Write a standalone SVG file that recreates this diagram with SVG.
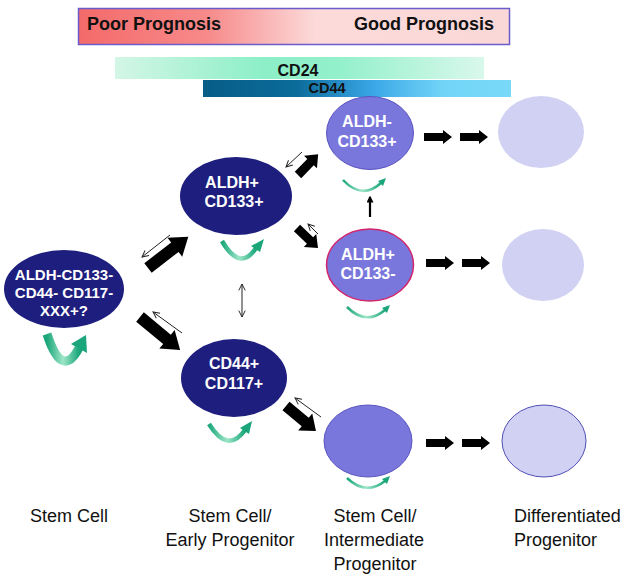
<svg xmlns="http://www.w3.org/2000/svg" width="624" height="579" viewBox="0 0 624 579">
<style>
  text { font-family: "Liberation Sans", Arial, sans-serif; }
  .hdr { font-size: 18px; font-weight: bold; fill: #111; }
  .bar { font-weight: bold; fill: #111; text-anchor: middle; }
  .nt { font-size: 16px; font-weight: bold; fill: #fff; text-anchor: middle; }
  .st { font-size: 15px; font-weight: bold; fill: #fff; text-anchor: middle; }
  .lbl { font-size: 18px; fill: #111; }
  .dark { fill: #1e1e7e; }
  .mid { fill: #7a77dc; }
  .light { fill: #d1d1f3; }
  .blk { fill: #000; }
  .thin { stroke: #222; stroke-width: 1; fill: none; }
  .sr { fill: none; stroke: url(#gSR); }
  .srh { fill: #1aa67a; }
</style>
<defs>
  <linearGradient id="gProg" x1="0" y1="0" x2="1" y2="0">
    <stop offset="0" stop-color="#f46a6a"/>
    <stop offset="0.3" stop-color="#f78a8a"/>
    <stop offset="0.55" stop-color="#fcdada"/>
    <stop offset="1" stop-color="#fbd8d8"/>
  </linearGradient>
  <linearGradient id="gCD24" x1="0" y1="0" x2="1" y2="0">
    <stop offset="0" stop-color="#d4f6e6"/>
    <stop offset="0.4" stop-color="#8cefc8"/>
    <stop offset="0.6" stop-color="#92f0cb"/>
    <stop offset="1" stop-color="#d9f8ec"/>
  </linearGradient>
  <linearGradient id="gCD44" x1="0" y1="0" x2="1" y2="0">
    <stop offset="0" stop-color="#075d86"/>
    <stop offset="0.3" stop-color="#0b6b9a"/>
    <stop offset="0.55" stop-color="#3aa6e6"/>
    <stop offset="0.78" stop-color="#72d5f8"/>
    <stop offset="1" stop-color="#7ad9f8"/>
  </linearGradient>
  <linearGradient id="gSR" x1="0" y1="0" x2="1" y2="0">
    <stop offset="0" stop-color="#1aa67a"/>
    <stop offset="0.5" stop-color="#9ee6c8"/>
    <stop offset="1" stop-color="#1aa67a"/>
  </linearGradient>
  <marker id="mOpen" viewBox="0 0 10 10" refX="9" refY="5" markerWidth="8" markerHeight="8" markerUnits="userSpaceOnUse" orient="auto-start-reverse">
    <path d="M1,1 L9,5 L1,9" fill="none" stroke="#222" stroke-width="1.2"/>
  </marker>
  <marker id="mSolid" viewBox="0 0 10 10" refX="8" refY="5" markerWidth="7" markerHeight="7" markerUnits="userSpaceOnUse" orient="auto">
    <path d="M0,0 L10,5 L0,10 Z" fill="#000"/>
  </marker>
  <polygon id="hArrow" points="0,-4 19,-4 19,-7 28,0 19,7 19,4 0,4"/>
</defs>

<rect width="624" height="579" fill="#fff"/>

<g id="prognosis-bar">
  <rect x="78.5" y="8.5" width="431" height="36" fill="url(#gProg)" stroke="#6a5ccc" stroke-width="1.5"/>
  <text class="hdr" x="87" y="30">Poor Prognosis</text>
  <text class="hdr" x="494" y="30" text-anchor="end">Good Prognosis</text>
</g>

<g id="cd24-bar">
  <rect x="115" y="57" width="369" height="22" fill="url(#gCD24)"/>
  <text class="bar" x="298" y="76" font-size="16">CD24</text>
</g>

<g id="cd44-bar">
  <rect x="203" y="80" width="308" height="17" fill="url(#gCD44)"/>
  <text class="bar" x="327" y="93" font-size="14.5">CD44</text>
</g>

<g id="connectors">
  <!-- big block arrows -->
  <polygon class="blk" transform="translate(148,268) rotate(-37.8)" points="0,-6 34,-6 34,-12 51,0 34,12 34,6 0,6"/>
  <polygon class="blk" transform="translate(140,317) rotate(39.5)" points="0,-6 35,-6 35,-12 52,0 35,12 35,6 0,6"/>
  <polygon class="blk" transform="translate(298,175) rotate(-46)" points="0,-4.5 18,-4.5 18,-9 29,0 18,9 18,4.5 0,4.5"/>
  <polygon class="blk" transform="translate(297,228) rotate(43.6)" points="0,-4.5 18,-4.5 18,-9 29,0 18,9 18,4.5 0,4.5"/>
  <polygon class="blk" transform="translate(286,406) rotate(39.8)" points="0,-5.5 25,-5.5 25,-11 39,0 25,11 25,5.5 0,5.5"/>
  <!-- horizontal block arrows -->
  <use href="#hArrow" class="blk" x="424" y="137"/>
  <use href="#hArrow" class="blk" x="460" y="137"/>
  <use href="#hArrow" class="blk" x="426" y="263"/>
  <use href="#hArrow" class="blk" x="462" y="263"/>
  <use href="#hArrow" class="blk" x="426" y="443"/>
  <use href="#hArrow" class="blk" x="462" y="443"/>
  <!-- thin reverse arrows -->
  <line class="thin" x1="170" y1="235" x2="142" y2="257" marker-end="url(#mOpen)"/>
  <line class="thin" x1="182" y1="333" x2="153" y2="312" marker-end="url(#mOpen)"/>
  <line class="thin" x1="302" y1="152" x2="286" y2="167" marker-end="url(#mOpen)"/>
  <line class="thin" x1="318" y1="234" x2="308" y2="224" marker-end="url(#mOpen)"/>
  <line class="thin" x1="321" y1="417" x2="295" y2="398" marker-end="url(#mOpen)"/>
  <line class="thin" x1="242" y1="284" x2="242" y2="317" marker-start="url(#mOpen)" marker-end="url(#mOpen)"/>
  <!-- up arrow between ALDH+CD133- and ALDH-CD133+ -->
  <line x1="370" y1="217" x2="370" y2="197" stroke="#000" stroke-width="2.2" marker-end="url(#mSolid)"/>
  <!-- self-renewal arrows -->
  <path class="sr" stroke-width="9" d="M47,334 Q62,380 79,348"/>
  <polygon class="srh" points="71,344 87,353 86,335"/>
  <path class="sr" stroke-width="4.5" d="M222,241 Q240,272 256,248"/>
  <polygon class="srh" points="251,246 260,252 264,239"/>
  <path class="sr" stroke-width="4.5" d="M209,424 Q228,454 245,430"/>
  <polygon class="srh" points="240,428 249,434 252,421"/>
  <path class="sr" stroke-width="2.5" d="M343,180 Q362,200 381,183"/>
  <polygon class="srh" points="378,181 383,186 386,178"/>
  <path class="sr" stroke-width="2.5" d="M347,307 Q366,326 385,310"/>
  <polygon class="srh" points="382,308 387,313 390,305"/>
  <path class="sr" stroke-width="2.5" d="M347,478 Q366,496 385,481"/>
  <polygon class="srh" points="382,479 387,484 390,476"/>
</g>

<g id="stem-cell">
  <ellipse class="dark" cx="64" cy="289" rx="60" ry="39"/>
  <text class="st" x="64" y="280">ALDH-CD133-</text>
  <text class="st" x="64" y="298">CD44- CD117-</text>
  <text class="st" x="64" y="316">XXX+?</text>
</g>

<g id="aldh-pos-cd133-pos">
  <ellipse class="dark" cx="236" cy="196" rx="56" ry="39"/>
  <text class="nt" x="232" y="188">ALDH+</text>
  <text class="nt" x="234" y="207">CD133+</text>
</g>

<g id="cd44-pos-cd117-pos">
  <ellipse class="dark" cx="234" cy="378" rx="53" ry="39"/>
  <text class="nt" x="234" y="369">CD44+</text>
  <text class="nt" x="234" y="389">CD117+</text>
</g>

<g id="aldh-neg-cd133-pos">
  <ellipse class="mid" cx="370" cy="133" rx="43.5" ry="36.5" stroke="#5a52c0" stroke-width="1"/>
  <text class="nt" x="367" y="127">ALDH-</text>
  <text class="nt" x="367" y="147">CD133+</text>
</g>

<g id="aldh-pos-cd133-neg">
  <ellipse class="mid" cx="370" cy="265" rx="43.5" ry="36" stroke="#d2246a" stroke-width="1.5"/>
  <text class="nt" x="368" y="260">ALDH+</text>
  <text class="nt" x="368" y="279">CD133-</text>
</g>

<g id="intermediate-bottom">
  <ellipse class="mid" cx="368" cy="441" rx="44" ry="36" stroke="#5a55c0" stroke-width="1"/>
</g>

<g id="diff-top">
  <ellipse class="light" cx="541" cy="132" rx="43" ry="36"/>
</g>
<g id="diff-middle">
  <ellipse class="light" cx="543" cy="265" rx="41" ry="36"/>
</g>
<g id="diff-bottom">
  <ellipse class="light" cx="544" cy="441" rx="42" ry="36" stroke="#5050b4" stroke-width="1"/>
</g>

<g id="labels">
  <text class="lbl" x="69" y="522" text-anchor="middle">Stem Cell</text>
  <text class="lbl" x="230" y="522" text-anchor="middle">Stem Cell/</text>
  <text class="lbl" x="230" y="546" text-anchor="middle">Early Progenitor</text>
  <text class="lbl" x="375" y="522" text-anchor="middle">Stem Cell/</text>
  <text class="lbl" x="374" y="546" text-anchor="middle">Intermediate</text>
  <text class="lbl" x="375" y="570" text-anchor="middle">Progenitor</text>
  <text class="lbl" x="514" y="522">Differentiated</text>
  <text class="lbl" x="514" y="546">Progenitor</text>
</g>
</svg>
